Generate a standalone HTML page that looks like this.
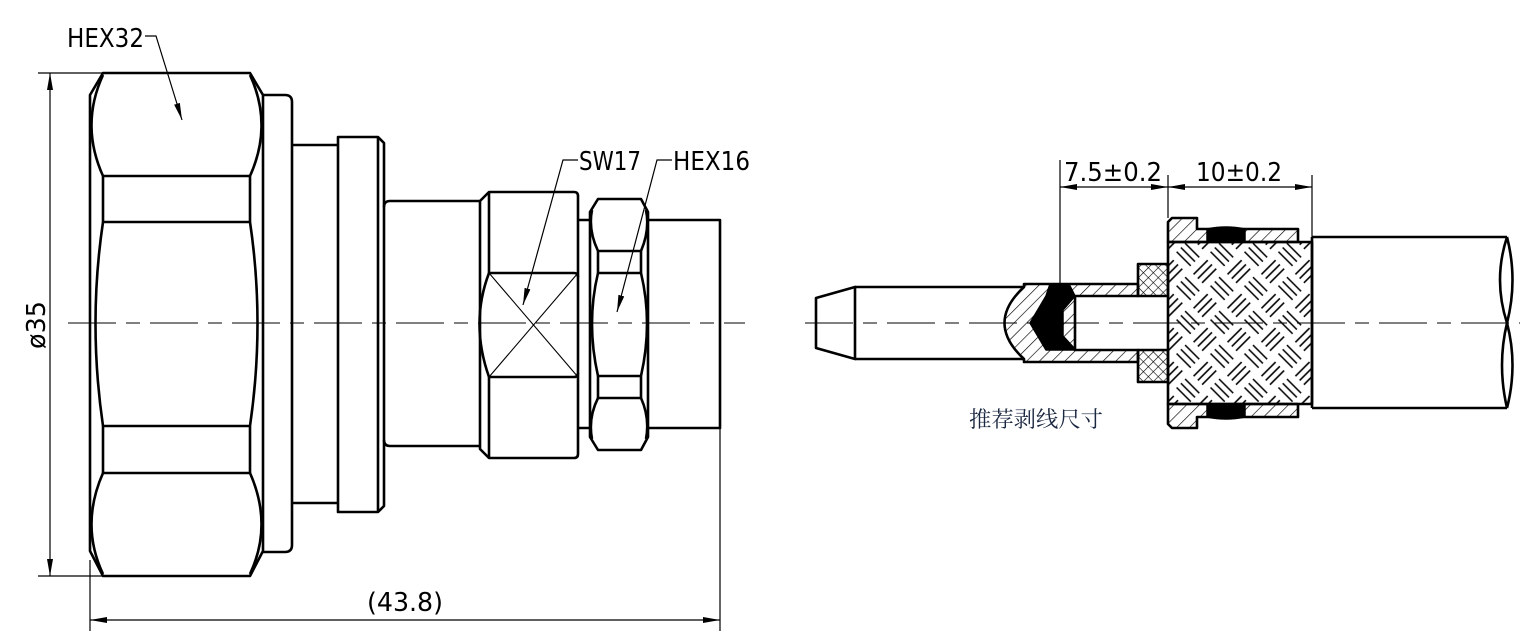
<!DOCTYPE html>
<html><head><meta charset="utf-8"><style>
html,body{margin:0;padding:0;background:#fff;}
svg{display:block;}
text{font-family:"DejaVu Sans","Liberation Sans",sans-serif;}
</style></head><body>
<svg width="1539" height="644" viewBox="0 0 1539 644" xmlns="http://www.w3.org/2000/svg">
<defs>
<pattern id="hat" width="9" height="9" patternUnits="userSpaceOnUse" patternTransform="rotate(45)">
<line x1="0" y1="0" x2="0" y2="9" stroke="#000" stroke-width="1.3"/></pattern>
<pattern id="cross" width="7" height="7" patternUnits="userSpaceOnUse" patternTransform="rotate(45)">
<line x1="0" y1="0" x2="0" y2="7" stroke="#000" stroke-width="1.2"/><line x1="0" y1="0" x2="7" y2="0" stroke="#000" stroke-width="1.2"/></pattern>
<pattern id="weave" width="48" height="48" patternUnits="userSpaceOnUse" patternTransform="rotate(45)">
<g stroke="#000" stroke-width="1.6">
<line x1="2" y1="6" x2="22" y2="6"/><line x1="2" y1="12" x2="22" y2="12"/><line x1="2" y1="18" x2="22" y2="18"/>
<line x1="26" y1="30" x2="46" y2="30"/><line x1="26" y1="36" x2="46" y2="36"/><line x1="26" y1="42" x2="46" y2="42"/>
<line x1="30" y1="2" x2="30" y2="22"/><line x1="36" y1="2" x2="36" y2="22"/><line x1="42" y1="2" x2="42" y2="22"/>
<line x1="6" y1="26" x2="6" y2="46"/><line x1="12" y1="26" x2="12" y2="46"/><line x1="18" y1="26" x2="18" y2="46"/>
</g></pattern>
<marker id="ar" markerWidth="18" markerHeight="8" refX="17" refY="4" orient="auto-start-reverse" markerUnits="userSpaceOnUse">
<path d="M0,1 L17,4 L0,7 Z" fill="#000"/></marker>
</defs>

<g stroke="#000" stroke-width="1" stroke-dasharray="48,10,14,10">
<line x1="68" y1="323" x2="745" y2="323"/>
<line x1="805" y1="323" x2="1520" y2="323"/>
</g>

<g fill="none" stroke="#000" stroke-width="2.6" stroke-linejoin="round">
<path d="M103,73 L250,73 L263,95 L263,551 L250,576 L103,576 L90,551 L90,95 Z"/>
<line x1="103" y1="176" x2="250" y2="176"/><line x1="103" y1="222" x2="250" y2="222"/>
<line x1="103" y1="426" x2="250" y2="426"/><line x1="103" y1="473" x2="250" y2="473"/>
<path d="M103,75 Q80,125 103,176 M250,75 Q273,125 250,176"/>
<path d="M103,222 L103,176 M250,222 L250,176 M103,426 L103,473 M250,426 L250,473"/>
<path d="M103,222 Q88,323 103,426 M250,222 Q265,323 250,426"/>
<path d="M103,473 Q80,525 103,574 M250,473 Q273,525 250,574"/>
<path d="M263,95 L285,95 Q292,95 292,102 L292,545 Q292,552 285,552 L263,552"/>
<path d="M292,145 L338,145 M292,503 L338,503"/>
<path d="M338,137 L378,137 L384,143 L384,506 L378,512 L338,512 Z"/>
<line x1="378" y1="137" x2="378" y2="512"/>
<path d="M384,207 Q384,201 390,201 L480,201 M384,440 Q384,446 390,446 L480,446"/>
<path d="M480,201 L489,192 L574,192 Q578,192 578,196 L578,454 Q578,458 574,458 L489,458 L480,449 Z"/>
<line x1="489" y1="192" x2="489" y2="273"/><line x1="489" y1="377" x2="489" y2="458"/>
<path d="M489,273 L574,273 Q578,273 578,277 M489,377 L574,377 Q578,377 578,373"/>
<path d="M489,273 Q470,323 489,377"/>
<path d="M578,220 L590,220 M578,428 L590,428"/>
<path d="M598,199 L641,199 L648,212 L648,437 L641,450 L598,450 L590,437 L590,212 Z"/>
<path d="M598,251 L641,251 M598,273 L641,273 M598,376 L641,376 M598,398 L641,398"/>
<path d="M598,251 L598,273 M641,251 L641,273 M598,376 L598,398 M641,376 L641,398"/>
<path d="M592,210 Q588,230 598,251 M646,210 Q650,230 641,251 M592,439 Q588,418 598,398 M646,439 Q650,418 641,398"/>
<path d="M598,273 Q586,323 598,376 M641,273 Q653,323 641,376"/>
<path d="M648,220 L720,220 L720,428 L648,428"/>
</g>
<g stroke="#000" stroke-width="1.1">
<line x1="489" y1="273" x2="578" y2="377"/><line x1="578" y1="273" x2="489" y2="377"/>
</g>

<g stroke="#000" stroke-width="1.2" fill="none">
<line x1="38" y1="73" x2="103" y2="73"/><line x1="38" y1="576" x2="103" y2="576"/>
<line x1="50" y1="73" x2="50" y2="576" marker-start="url(#ar)" marker-end="url(#ar)"/>
<line x1="90" y1="560" x2="90" y2="631"/><line x1="720" y1="428" x2="720" y2="631"/>
<line x1="90" y1="620" x2="720" y2="620" marker-start="url(#ar)" marker-end="url(#ar)"/>
<path d="M145,36 L156,36 L182,120" marker-end="url(#ar)"/>
<path d="M578,160 L563,160 L523,305" marker-end="url(#ar)"/>
<path d="M672,160 L657,160 L617,312" marker-end="url(#ar)"/>
</g>
<g font-size="26">
<text x="67" y="47" textLength="77" lengthAdjust="spacingAndGlyphs">HEX32</text>
<text x="579" y="170" textLength="62" lengthAdjust="spacingAndGlyphs">SW17</text>
<text x="673" y="170" textLength="77" lengthAdjust="spacingAndGlyphs">HEX16</text>
<text x="367" y="611" textLength="76" lengthAdjust="spacingAndGlyphs">(43.8)</text>
<text transform="translate(45,349) rotate(-90)" textLength="48" lengthAdjust="spacingAndGlyphs">ø35</text>
<text x="1064" y="181" textLength="98" lengthAdjust="spacingAndGlyphs">7.5±0.2</text>
<text x="1196" y="181" textLength="86" lengthAdjust="spacingAndGlyphs">10±0.2</text>
</g>

<g stroke="#000" stroke-width="2.6" stroke-linejoin="round">
<path d="M816,298 L855,287 L855,359 L816,348 Z" fill="none"/>
<path d="M855,287 L1024,287 M855,359 L1024,359" fill="none"/>
<path d="M1024,287 L1024,284 L1138,284 L1138,296 L1075,296 L1075,350 L1138,350 L1138,362 L1024,362 L1024,359 Q985,323 1024,287 Z" fill="url(#hat)"/>
<path d="M1050,284 L1069,284 L1075,296 L1063,310 L1063,336 L1075,349 L1075,350 L1046,350 L1030,323 L1046,296 Z" fill="#000" stroke-width="1.5"/>
<rect x="1138" y="264" width="30" height="32" fill="url(#cross)"/>
<rect x="1138" y="350" width="30" height="32" fill="url(#cross)"/>
<path d="M1168,242 L1168,222 L1172,218 L1197,218 L1197,229 L1298,229 L1298,242 Z" fill="url(#hat)"/>
<path d="M1168,404 L1168,424 L1172,428 L1197,428 L1197,417 L1298,417 L1298,404 Z" fill="url(#hat)"/>
<path d="M1207,229 Q1226,225 1245,229 L1245,241 L1207,241 Z" fill="#000" stroke-width="1.5"/>
<path d="M1207,417 Q1226,421 1245,417 L1245,405 L1207,405 Z" fill="#000" stroke-width="1.5"/>
<rect x="1168" y="242" width="144" height="162" fill="url(#weave)"/>
<path d="M1312,237 L1507,237 M1312,408 L1507,408 M1312,237 L1312,408" fill="none"/>
<path d="M1507,237 Q1493,280 1507,323 Q1518,365 1507,408 M1507,237 Q1518,280 1507,323 Q1497,365 1507,408" fill="none"/>
</g>
<g stroke="#000" stroke-width="1.2" fill="none">
<line x1="1060" y1="160" x2="1060" y2="286"/>
<line x1="1168" y1="175" x2="1168" y2="218"/>
<line x1="1312" y1="175" x2="1312" y2="237"/>
<line x1="1060" y1="187" x2="1168" y2="187" marker-start="url(#ar)" marker-end="url(#ar)"/>
<line x1="1168" y1="187" x2="1312" y2="187" marker-start="url(#ar)" marker-end="url(#ar)"/>
</g>
<text x="969" y="427" font-size="22" fill="#1a2740" style='font-family:"Liberation Serif","Noto Serif CJK SC",serif' textLength="134" lengthAdjust="spacingAndGlyphs">推荐剥线尺寸</text>
</svg>
</body></html>
